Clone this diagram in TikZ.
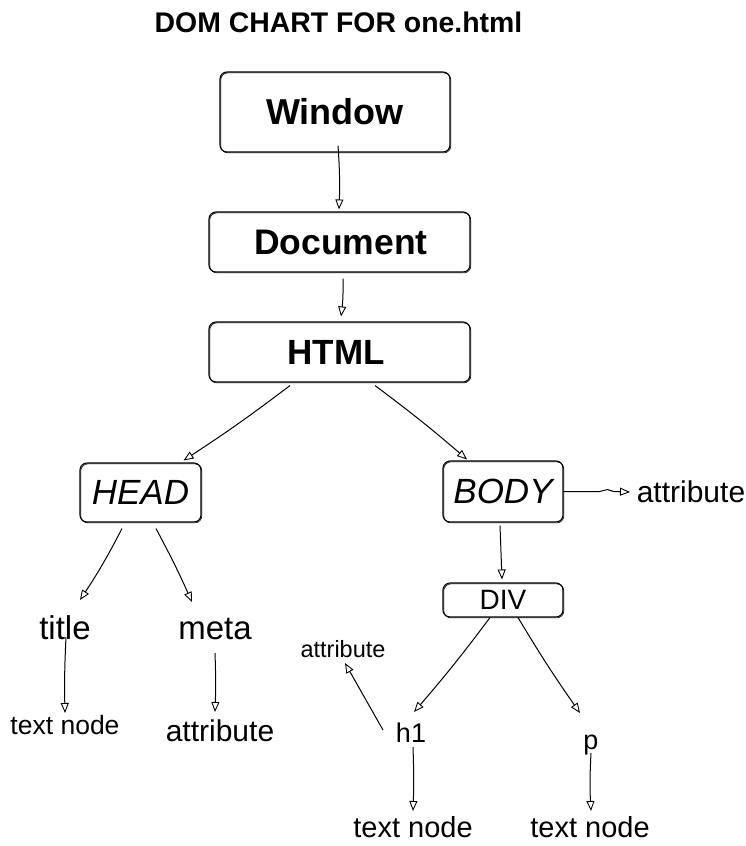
\documentclass[tikz,border=0pt]{standalone}
\usepackage{fontspec}
\setmainfont{Liberation Sans}
\usetikzlibrary{arrows.meta,calc}
\tikzset{
  sketchbox/.style={draw, line width=1.1pt, rounded corners=7pt, inner sep=0pt,
    preaction={draw, line width=0.6pt, rounded corners=7pt, transform canvas={shift={(0.8pt,-0.9pt)}}}},
  lbl/.style={inner sep=0pt, anchor=base},
  arr/.style={line width=1pt, -{Triangle[open, length=10pt, width=8pt, line width=0.9pt]}},
}
\newcommand{\fs}[1]{\fontsize{#1}{#1}\selectfont}
\begin{document}
\begin{tikzpicture}[x=1pt,y=-1pt]
\useasboundingbox (0,0) rectangle (745,846);
% title
\node[lbl] (ttl) at (338.5,32) {\fs{28.4}\bfseries DOM CHART FOR one.html};
% boxes
\node[sketchbox, minimum width=230pt, minimum height=80pt] (win) at (335,112) {\fs{36}\bfseries Window};
\node[sketchbox, minimum width=261pt, minimum height=60pt] (doc) at (339.5,242) {\fs{35.5}\bfseries\hspace*{3pt}\raisebox{-3pt}{Document}};
\node[sketchbox, minimum width=261pt, minimum height=60pt] (html) at (339.5,352) {\fs{35}\bfseries\hspace*{-7pt}HTML};
\node[sketchbox, minimum width=121pt, minimum height=59pt] (head) at (140.5,492.5) {\fs{35}\itshape\raisebox{-2pt}{HEAD}};
\node[sketchbox, minimum width=120pt, minimum height=61pt] (body) at (503,491.5) {\fs{35}\itshape BODY};
\node[sketchbox, minimum width=120pt, minimum height=34pt] (div) at (503,600) {\fs{28}DIV};
% text nodes
\node[lbl] (title) at (65,639) {\fs{33}title};
\node[lbl] (meta) at (215,639) {\fs{33}meta};
\node[lbl] (tn1) at (65,734) {\fs{26.5}text node};
\node[lbl] (attr1) at (220,741) {\fs{30}attribute};
\node[lbl] (attr3) at (691,502) {\fs{30}attribute};
\node[lbl] (attr2) at (343,657) {\fs{23.5}attribute};
\node[lbl] (h1) at (411,742) {\fs{27}h1};
\node[lbl] (p) at (591,749) {\fs{27}p};
\node[lbl] (tn2) at (413,837) {\fs{29}text node};
\node[lbl] (tn3) at (590,837) {\fs{29}text node};
% connectors
\draw[arr] ($(win.south)+(3,-7)$) to[bend left=3] ($(doc.north)+(-0.5,-2)$);
\draw[arr] ($(doc.south)+(3.5,6)$) to[bend left=4] ($(html.north)+(1.5,-5)$);
\draw[arr] ($(html.south)+(-49.5,3)$) to[bend left=2] ($(head.north east)+(-18,-2)$);
\draw[arr] ($(html.south)+(35.5,3)$) to[bend left=2] ($(body.north)+(-36,-1)$);
\draw[arr] ($(head.south)+(-18.5,6)$) to[bend left=3] ($(title.base)+(15,-39)$);
\draw[arr] ($(head.south)+(15.5,6)$) to[bend left=2] ($(meta.base)+(-23,-37)$);
\draw[arr] ($(title.base)+(1,-2)$) to[bend right=2] ($(tn1.base)+(0,-21)$);
\draw[arr] ($(meta.base)+(0,14)$) to[bend left=2] ($(attr1.base)+(-5,-29)$);
\draw[arr] ($(body.south)+(-3,3)$) -- ($(div.north)+(-1,-3)$);
\draw[arr] ($(div.south)+(-13,0)$) to[bend left=2] ($(h1.base)+(3,-30)$);
\draw[arr] ($(div.south)+(15,0)$) to[bend right=2] ($(p.base)+(-11,-36)$);
\draw[arr] ($(h1.base)+(-28,-12)$) -- ($(attr2.base)+(2,6)$);
\draw[arr] ($(h1.base)+(2,5)$) to[bend left=2] ($(tn2.base)+(0,-26)$);
\draw[arr] ($(p.base)+(0,4)$) to[bend right=3] ($(tn3.base)+(1,-26)$);
\draw[arr] (body.east) -- ++(36,0) to[out=0,in=180] ++(8,-2) to[out=0,in=180] ++(6,2) -- ($(attr3.base)+(-61,-10)$);
\end{tikzpicture}
\end{document}
